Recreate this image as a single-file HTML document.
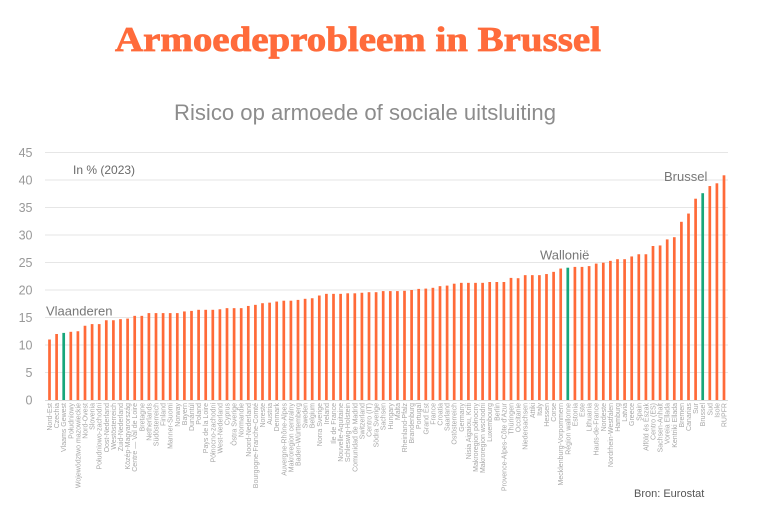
<!DOCTYPE html>
<html><head><meta charset="utf-8"><style>
html,body{margin:0;padding:0;background:#fff;}
svg{display:block;}
</style></head><body>
<svg width="758" height="515" viewBox="0 0 758 515" xmlns="http://www.w3.org/2000/svg">
<rect width="758" height="515" fill="#fff"/>
<text x="115" y="51" font-family="Liberation Serif, serif" font-weight="bold" font-size="35" fill="#ff6b3b" stroke="#ff6b3b" stroke-width="0.8" textLength="486" lengthAdjust="spacingAndGlyphs">Armoedeprobleem in Brussel</text>
<text x="174" y="120" font-family="Liberation Sans, sans-serif" font-size="22" fill="#8c8c8c" textLength="382" lengthAdjust="spacingAndGlyphs">Risico op armoede of sociale uitsluiting</text>
<g stroke="#e6e6e6" stroke-width="1">
<line x1="45" x2="728" y1="372.5" y2="372.5"/><line x1="45" x2="728" y1="345" y2="345"/><line x1="45" x2="728" y1="317.5" y2="317.5"/><line x1="45" x2="728" y1="290" y2="290"/><line x1="45" x2="728" y1="262.5" y2="262.5"/><line x1="45" x2="728" y1="235" y2="235"/><line x1="45" x2="728" y1="207.5" y2="207.5"/><line x1="45" x2="728" y1="180" y2="180"/><line x1="45" x2="728" y1="152.5" y2="152.5"/>
</g>
<line x1="45" x2="728" y1="400.5" y2="400.5" stroke="#d9d9d9" stroke-width="1"/>
<g font-family="Liberation Sans, sans-serif" font-size="12.5" fill="#999" text-anchor="end">
<text x="32.5" y="404.5">0</text><text x="32.5" y="377">5</text><text x="32.5" y="349.5">10</text><text x="32.5" y="322">15</text><text x="32.5" y="294.5">20</text><text x="32.5" y="267">25</text><text x="32.5" y="239.5">30</text><text x="32.5" y="212">35</text><text x="32.5" y="184.5">40</text><text x="32.5" y="157">45</text>
</g>
<g fill="#ff6a38">
<rect x="48.15" y="339.5" width="2.7" height="60.5"/>
<rect x="55.25" y="334" width="2.7" height="66"/>
<rect x="69.45" y="331.8" width="2.7" height="68.2"/>
<rect x="76.55" y="331.25" width="2.7" height="68.75"/>
<rect x="83.65" y="325.75" width="2.7" height="74.25"/>
<rect x="90.75" y="324.1" width="2.7" height="75.9"/>
<rect x="97.85" y="324.1" width="2.7" height="75.9"/>
<rect x="104.95" y="320.25" width="2.7" height="79.75"/>
<rect x="112.05" y="320.25" width="2.7" height="79.75"/>
<rect x="119.15" y="319.15" width="2.7" height="80.85"/>
<rect x="126.25" y="318.6" width="2.7" height="81.4"/>
<rect x="133.35" y="315.85" width="2.7" height="84.15"/>
<rect x="140.45" y="315.85" width="2.7" height="84.15"/>
<rect x="147.55" y="313.1" width="2.7" height="86.9"/>
<rect x="154.65" y="313.1" width="2.7" height="86.9"/>
<rect x="161.75" y="313.1" width="2.7" height="86.9"/>
<rect x="168.85" y="313.1" width="2.7" height="86.9"/>
<rect x="175.95" y="313.1" width="2.7" height="86.9"/>
<rect x="183.05" y="311.45" width="2.7" height="88.55"/>
<rect x="190.15" y="310.9" width="2.7" height="89.1"/>
<rect x="197.25" y="309.8" width="2.7" height="90.2"/>
<rect x="204.35" y="309.8" width="2.7" height="90.2"/>
<rect x="211.45" y="309.8" width="2.7" height="90.2"/>
<rect x="218.55" y="309.25" width="2.7" height="90.75"/>
<rect x="225.65" y="308.15" width="2.7" height="91.85"/>
<rect x="232.75" y="308.15" width="2.7" height="91.85"/>
<rect x="239.85" y="308.15" width="2.7" height="91.85"/>
<rect x="246.95" y="305.95" width="2.7" height="94.05"/>
<rect x="254.05" y="304.85" width="2.7" height="95.15"/>
<rect x="261.15" y="303.2" width="2.7" height="96.8"/>
<rect x="268.25" y="302.65" width="2.7" height="97.35"/>
<rect x="275.35" y="301.55" width="2.7" height="98.45"/>
<rect x="282.45" y="300.7" width="2.7" height="99.3"/>
<rect x="289.55" y="300.7" width="2.7" height="99.3"/>
<rect x="296.65" y="299.9" width="2.7" height="100.1"/>
<rect x="303.75" y="298.8" width="2.7" height="101.2"/>
<rect x="310.85" y="298.25" width="2.7" height="101.75"/>
<rect x="317.95" y="295.5" width="2.7" height="104.5"/>
<rect x="325.05" y="293.85" width="2.7" height="106.15"/>
<rect x="332.15" y="293.85" width="2.7" height="106.15"/>
<rect x="339.25" y="293.85" width="2.7" height="106.15"/>
<rect x="346.35" y="293.3" width="2.7" height="106.7"/>
<rect x="353.45" y="293.3" width="2.7" height="106.7"/>
<rect x="360.55" y="292.75" width="2.7" height="107.25"/>
<rect x="367.65" y="292.2" width="2.7" height="107.8"/>
<rect x="374.75" y="292.2" width="2.7" height="107.8"/>
<rect x="381.85" y="291.1" width="2.7" height="108.9"/>
<rect x="388.95" y="291.1" width="2.7" height="108.9"/>
<rect x="396.05" y="291.1" width="2.7" height="108.9"/>
<rect x="403.15" y="290.8" width="2.7" height="109.2"/>
<rect x="410.25" y="290" width="2.7" height="110"/>
<rect x="417.35" y="288.9" width="2.7" height="111.1"/>
<rect x="424.45" y="288.6" width="2.7" height="111.4"/>
<rect x="431.55" y="287.8" width="2.7" height="112.2"/>
<rect x="438.65" y="286.15" width="2.7" height="113.85"/>
<rect x="445.75" y="285.6" width="2.7" height="114.4"/>
<rect x="452.85" y="283.7" width="2.7" height="116.3"/>
<rect x="459.95" y="282.85" width="2.7" height="117.15"/>
<rect x="467.05" y="282.85" width="2.7" height="117.15"/>
<rect x="474.15" y="282.85" width="2.7" height="117.15"/>
<rect x="481.25" y="282.85" width="2.7" height="117.15"/>
<rect x="488.35" y="282" width="2.7" height="118"/>
<rect x="495.45" y="282" width="2.7" height="118"/>
<rect x="502.55" y="282" width="2.7" height="118"/>
<rect x="509.65" y="277.9" width="2.7" height="122.1"/>
<rect x="516.75" y="278.2" width="2.7" height="121.8"/>
<rect x="523.85" y="275.15" width="2.7" height="124.85"/>
<rect x="530.95" y="275.15" width="2.7" height="124.85"/>
<rect x="538.05" y="275.15" width="2.7" height="124.85"/>
<rect x="545.15" y="274.05" width="2.7" height="125.95"/>
<rect x="552.25" y="271.85" width="2.7" height="128.15"/>
<rect x="559.35" y="268.55" width="2.7" height="131.45"/>
<rect x="573.55" y="266.9" width="2.7" height="133.1"/>
<rect x="580.65" y="266.9" width="2.7" height="133.1"/>
<rect x="587.75" y="266.1" width="2.7" height="133.9"/>
<rect x="594.85" y="263.6" width="2.7" height="136.4"/>
<rect x="601.95" y="262.7" width="2.7" height="137.3"/>
<rect x="609.05" y="260.85" width="2.7" height="139.15"/>
<rect x="616.15" y="259.2" width="2.7" height="140.8"/>
<rect x="623.25" y="259.2" width="2.7" height="140.8"/>
<rect x="630.35" y="256.45" width="2.7" height="143.55"/>
<rect x="637.45" y="254.25" width="2.7" height="145.75"/>
<rect x="644.55" y="254.25" width="2.7" height="145.75"/>
<rect x="651.65" y="246" width="2.7" height="154"/>
<rect x="658.75" y="245.45" width="2.7" height="154.55"/>
<rect x="665.85" y="239.4" width="2.7" height="160.6"/>
<rect x="672.95" y="237.2" width="2.7" height="162.8"/>
<rect x="680.05" y="221.8" width="2.7" height="178.2"/>
<rect x="687.15" y="213.55" width="2.7" height="186.45"/>
<rect x="694.25" y="198.7" width="2.7" height="201.3"/>
<rect x="708.45" y="186.05" width="2.7" height="213.95"/>
<rect x="715.55" y="183.3" width="2.7" height="216.7"/>
<rect x="722.65" y="175.3" width="2.7" height="224.7"/>
</g>
<g fill="#17a67b">
<rect x="62.35" y="332.9" width="2.7" height="67.1"/>
<rect x="566.45" y="267.7" width="2.7" height="132.3"/>
<rect x="701.35" y="193.2" width="2.7" height="206.8"/>
</g>
<g font-family="Liberation Sans, sans-serif" fill="#777">
<text x="73" y="174" font-size="12" fill="#6a6a6a">In % (2023)</text>
<text x="46" y="315.5" font-size="13">Vlaanderen</text>
<text x="540" y="259.5" font-size="13">Wallonië</text>
<text x="664" y="181" font-size="13">Brussel</text>
<text x="634" y="497" font-size="11" fill="#555">Bron: Eurostat</text>
</g>
<g font-family="Liberation Sans, sans-serif" font-size="7" fill="#a8a8a8" text-anchor="end">
<text transform="translate(52,403) rotate(-90)">Nord-Est</text>
<text transform="translate(59.1,403) rotate(-90)">Czechia</text>
<text transform="translate(66.2,403) rotate(-90)">Vlaams Gewest</text>
<text transform="translate(73.3,403) rotate(-90)">Południowy</text>
<text transform="translate(80.4,403) rotate(-90)">Województwo mazowieckie</text>
<text transform="translate(87.5,403) rotate(-90)">Nord-Ovest</text>
<text transform="translate(94.6,403) rotate(-90)">Slovenia</text>
<text transform="translate(101.7,403) rotate(-90)">Południowo-zachodni</text>
<text transform="translate(108.8,403) rotate(-90)">Oost-Nederland</text>
<text transform="translate(115.9,403) rotate(-90)">Westösterreich</text>
<text transform="translate(123,403) rotate(-90)">Zuid-Nederland</text>
<text transform="translate(130.1,403) rotate(-90)">Közép-Magyarország</text>
<text transform="translate(137.2,403) rotate(-90)">Centre — Val de Loire</text>
<text transform="translate(144.3,403) rotate(-90)">Bretagne</text>
<text transform="translate(151.4,403) rotate(-90)">Netherlands</text>
<text transform="translate(158.5,403) rotate(-90)">Südösterreich</text>
<text transform="translate(165.6,403) rotate(-90)">Finland</text>
<text transform="translate(172.7,403) rotate(-90)">Manner-Suomi</text>
<text transform="translate(179.8,403) rotate(-90)">Norway</text>
<text transform="translate(186.9,403) rotate(-90)">Bayern</text>
<text transform="translate(194,403) rotate(-90)">Dunántúl</text>
<text transform="translate(201.1,403) rotate(-90)">Poland</text>
<text transform="translate(208.2,403) rotate(-90)">Pays de la Loire</text>
<text transform="translate(215.3,403) rotate(-90)">Północno-zachodni</text>
<text transform="translate(222.4,403) rotate(-90)">West-Nederland</text>
<text transform="translate(229.5,403) rotate(-90)">Cyprus</text>
<text transform="translate(236.6,403) rotate(-90)">Östra Sverige</text>
<text transform="translate(243.7,403) rotate(-90)">Normandie</text>
<text transform="translate(250.8,403) rotate(-90)">Noord-Nederland</text>
<text transform="translate(257.9,403) rotate(-90)">Bourgogne-Franche-Comté</text>
<text transform="translate(265,403) rotate(-90)">Noreste</text>
<text transform="translate(272.1,403) rotate(-90)">Austria</text>
<text transform="translate(279.2,403) rotate(-90)">Denmark</text>
<text transform="translate(286.3,403) rotate(-90)">Auvergne-Rhône-Alpes</text>
<text transform="translate(293.4,403) rotate(-90)">Makroregion centralny</text>
<text transform="translate(300.5,403) rotate(-90)">Baden-Württemberg</text>
<text transform="translate(307.6,403) rotate(-90)">Sweden</text>
<text transform="translate(314.7,403) rotate(-90)">Belgium</text>
<text transform="translate(321.8,403) rotate(-90)">Norra Sverige</text>
<text transform="translate(328.9,403) rotate(-90)">Ireland</text>
<text transform="translate(336,403) rotate(-90)">Ile de France</text>
<text transform="translate(343.1,403) rotate(-90)">Nouvelle-Aquitaine</text>
<text transform="translate(350.2,403) rotate(-90)">Schleswig-Holstein</text>
<text transform="translate(357.3,403) rotate(-90)">Comunidad de Madrid</text>
<text transform="translate(364.4,403) rotate(-90)">Switzerland</text>
<text transform="translate(371.5,403) rotate(-90)">Centro (IT)</text>
<text transform="translate(378.6,403) rotate(-90)">Södra Sverige</text>
<text transform="translate(385.7,403) rotate(-90)">Sachsen</text>
<text transform="translate(392.8,403) rotate(-90)">Hungary</text>
<text transform="translate(399.9,403) rotate(-90)">Malta</text>
<text transform="translate(407,403) rotate(-90)">Rheinland-Pfalz</text>
<text transform="translate(414.1,403) rotate(-90)">Brandenburg</text>
<text transform="translate(421.2,403) rotate(-90)">Portugal</text>
<text transform="translate(428.3,403) rotate(-90)">Grand Est</text>
<text transform="translate(435.4,403) rotate(-90)">France</text>
<text transform="translate(442.5,403) rotate(-90)">Croatia</text>
<text transform="translate(449.6,403) rotate(-90)">Saarland</text>
<text transform="translate(456.7,403) rotate(-90)">Ostösterreich</text>
<text transform="translate(463.8,403) rotate(-90)">Germany</text>
<text transform="translate(470.9,403) rotate(-90)">Nisia Aigaiou, Kriti</text>
<text transform="translate(478,403) rotate(-90)">Makroregion północny</text>
<text transform="translate(485.1,403) rotate(-90)">Makroregion wschodni</text>
<text transform="translate(492.2,403) rotate(-90)">Luxembourg</text>
<text transform="translate(499.3,403) rotate(-90)">Berlin</text>
<text transform="translate(506.4,403) rotate(-90)">Provence-Alpes-Côte d'Azur</text>
<text transform="translate(513.5,403) rotate(-90)">Thüringen</text>
<text transform="translate(520.6,403) rotate(-90)">Occitanie</text>
<text transform="translate(527.7,403) rotate(-90)">Niedersachsen</text>
<text transform="translate(534.8,403) rotate(-90)">Attiki</text>
<text transform="translate(541.9,403) rotate(-90)">Italy</text>
<text transform="translate(549,403) rotate(-90)">Hessen</text>
<text transform="translate(556.1,403) rotate(-90)">Corse</text>
<text transform="translate(563.2,403) rotate(-90)">Mecklenburg-Vorpommern</text>
<text transform="translate(570.3,403) rotate(-90)">Région wallonne</text>
<text transform="translate(577.4,403) rotate(-90)">Estonia</text>
<text transform="translate(584.5,403) rotate(-90)">Este</text>
<text transform="translate(591.6,403) rotate(-90)">Lithuania</text>
<text transform="translate(598.7,403) rotate(-90)">Hauts-de-France</text>
<text transform="translate(605.8,403) rotate(-90)">Nordeste</text>
<text transform="translate(612.9,403) rotate(-90)">Nordrhein-Westfalen</text>
<text transform="translate(620,403) rotate(-90)">Hamburg</text>
<text transform="translate(627.1,403) rotate(-90)">Latvia</text>
<text transform="translate(634.2,403) rotate(-90)">Greece</text>
<text transform="translate(641.3,403) rotate(-90)">Spain</text>
<text transform="translate(648.4,403) rotate(-90)">Alföld és Észak</text>
<text transform="translate(655.5,403) rotate(-90)">Centro (ES)</text>
<text transform="translate(662.6,403) rotate(-90)">Sachsen-Anhalt</text>
<text transform="translate(669.7,403) rotate(-90)">Voreia Ellada</text>
<text transform="translate(676.8,403) rotate(-90)">Kentriki Ellada</text>
<text transform="translate(683.9,403) rotate(-90)">Bremen</text>
<text transform="translate(691,403) rotate(-90)">Canarias</text>
<text transform="translate(698.1,403) rotate(-90)">Sur</text>
<text transform="translate(705.2,403) rotate(-90)">Brussel</text>
<text transform="translate(712.3,403) rotate(-90)">Sud</text>
<text transform="translate(719.4,403) rotate(-90)">Isole</text>
<text transform="translate(726.5,403) rotate(-90)">RUPFR</text>
</g>
</svg>
</body></html>
